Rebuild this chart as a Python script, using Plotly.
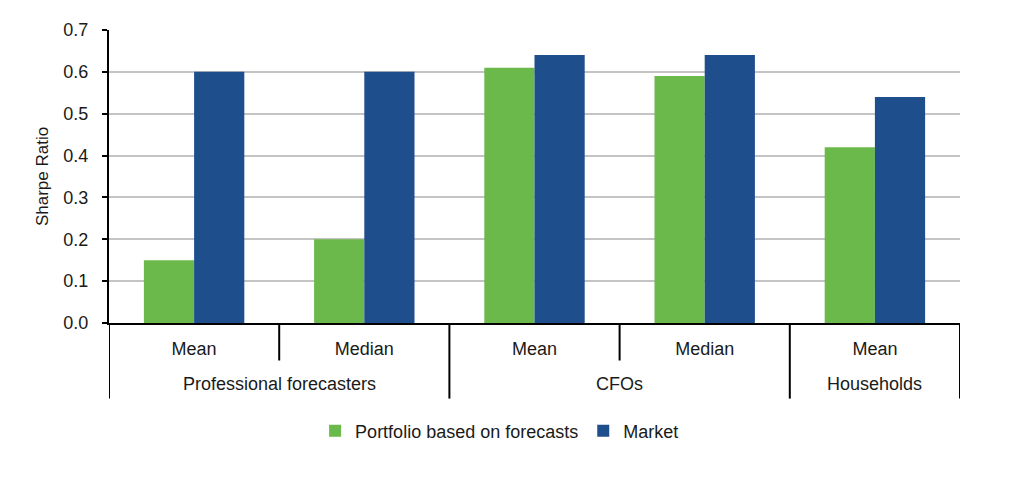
import plotly.graph_objects as go

# Data
groups = ["Professional forecasters", "Professional forecasters", "CFOs", "CFOs", "Households"]
subcats = ["Mean", "Median", "Mean", "Median", "Mean"]
portfolio = [0.15, 0.20, 0.61, 0.59, 0.42]
market = [0.60, 0.60, 0.64, 0.64, 0.54]
yticks = [0.0, 0.1, 0.2, 0.3, 0.4, 0.5, 0.6, 0.7]

FONT = "Liberation Sans, Arial, sans-serif"
GREEN = "#6BB94A"
BLUE = "#1F4E8C"
TXT = "#1a1a1a"

xpos = list(range(len(subcats)))

fig = go.Figure()
fig.add_trace(go.Bar(x=xpos, y=portfolio, name="Portfolio based on forecasts",
                     marker=dict(color=GREEN, line=dict(width=0))))
fig.add_trace(go.Bar(x=xpos, y=market, name="Market",
                     marker=dict(color=BLUE, line=dict(width=0))))

# separators and group labels
shapes = []
annotations = []
short_bottom = -0.128
long_bottom = -0.258
bounds = [-0.5]
for i in range(1, len(groups)):
    if groups[i] != groups[i - 1]:
        bounds.append(i - 0.5)
bounds.append(len(groups) - 0.5)
for b in bounds:
    shapes.append(dict(type="line", xref="x", yref="paper", x0=b, x1=b, y0=0, y1=long_bottom,
                       line=dict(color="black", width=2)))
for i in range(1, len(groups)):
    if groups[i] == groups[i - 1]:
        shapes.append(dict(type="line", xref="x", yref="paper", x0=i - 0.5, x1=i - 0.5, y0=0,
                           y1=short_bottom, line=dict(color="black", width=2)))
start = 0
for i in range(1, len(groups) + 1):
    if i == len(groups) or groups[i] != groups[start]:
        annotations.append(dict(x=(start + i - 1) / 2, y=-0.208, xref="x", yref="paper",
                                text=groups[start], showarrow=False, yanchor="middle",
                                font=dict(family=FONT, size=18, color=TXT)))
        start = i

fig.update_layout(
    width=1024, height=491,
    margin=dict(l=101, r=72, t=17, b=176),
    paper_bgcolor="white", plot_bgcolor="white",
    barmode="group", bargap=0.41, bargroupgap=0,
    font=dict(family=FONT, size=18, color=TXT),
    showlegend=True,
    legend=dict(orientation="h", x=0.459, xanchor="center", y=-0.369, yanchor="middle",
                font=dict(family=FONT, size=18, color=TXT), itemwidth=30,
                traceorder="normal"),
    shapes=shapes, annotations=annotations,
)
fig.update_xaxes(tickmode="array", tickvals=xpos, ticktext=subcats, range=[-0.5, len(subcats) - 0.5],
                 showline=True, linecolor="black", linewidth=2, ticks="", showgrid=False,
                 zeroline=False, ticklabelstandoff=8, tickfont=dict(family=FONT, size=18, color=TXT))
fig.update_yaxes(range=[0, 0.7], tickvals=yticks, tickformat=".1f", showline=True,
                 linecolor="black", linewidth=2, ticks="outside", ticklen=5, tickwidth=2,
                 tickcolor="black", showgrid=True, gridcolor="#c4c4c4", gridwidth=2,
                 zeroline=False, ticklabelstandoff=10, tickfont=dict(family=FONT, size=18, color=TXT),
                 title=dict(text="Sharpe Ratio", font=dict(family=FONT, size=17, color=TXT), standoff=10))

fig.write_html("out.html")
